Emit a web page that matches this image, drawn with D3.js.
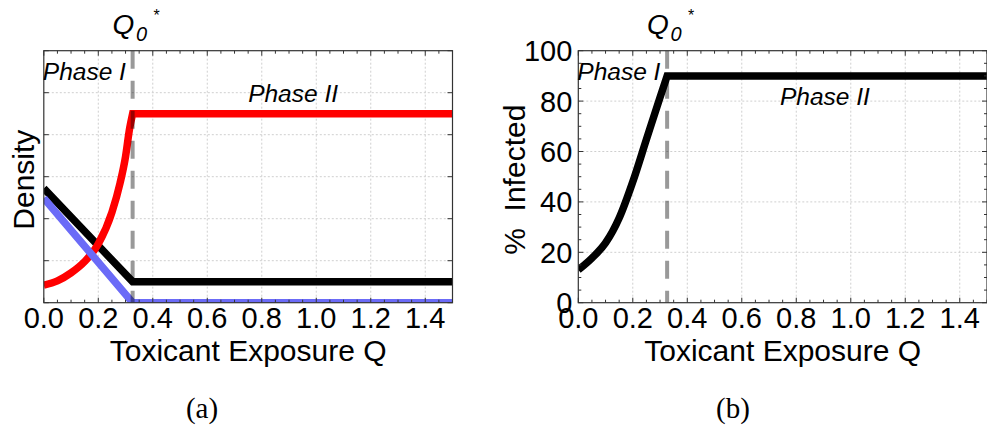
<!DOCTYPE html>
<html>
<head>
<meta charset="utf-8">
<script src="https://cdn.jsdelivr.net/npm/d3@7"></script>
<style>
  html, body { margin: 0; padding: 0; background: #fff; }
  svg { display: block; }
  text { font-family: "Liberation Sans", Arial, Helvetica, sans-serif; fill: #000; }
</style>
</head>
<body>
<svg id="chart" width="987" height="426"></svg>
<script>
// ---------- data ----------
const qStar = 0.326;
const xTickValues = [0, 0.2, 0.4, 0.6, 0.8, 1.0, 1.2, 1.4];
const xTickLabels = ["0.0", "0.2", "0.4", "0.6", "0.8", "1.0", "1.2", "1.4"];
const densityGrid = [0, 1, 2, 3, 4, 5, 6];
const pctTickValues = [0, 20, 40, 60, 80, 100];
const pctTickLabels = ["0", "20", "40", "60", "80", "100"];

// panel (a): densities
const redQ       = [0, 0.05, 0.10, 0.15, 0.20, 0.25, 0.28, 0.30, 0.315, 0.326, 1.5];
const redDensity = [0.42, 0.52, 0.71, 0.98, 1.40, 2.15, 2.85, 3.48, 4.15, 4.50, 4.50];
const blackQ       = [0, 0.326, 1.5];
const blackDensity = [2.72, 0.50, 0.50];
const blueQ       = [0, 0.326, 1.5];
const blueDensity = [2.49, 0.0, 0.0];

// panel (b): % infected
const infQ   = [0, 0.05, 0.10, 0.15, 0.20, 0.25, 0.30, 0.326, 1.5];
const infPct = [13, 17.7, 23.7, 33.6, 48, 64.8, 81.5, 90, 90];

// ---------- layout ----------
const svg = d3.select("#chart");
const plotTop = 50.7, plotBottom = 302.7;
const panels = [
  { id: "a", left: 43.8, right: 452.5, yDomain: [0, 6] },
  { id: "b", left: 578.3, right: 987.0, yDomain: [0, 100] }
];

function zip(q, v) { return q.map((d, i) => [d, v[i]]); }

function drawPanel(p) {
  const x = d3.scaleLinear().domain([0, 1.5]).range([p.left, p.right]);
  const y = d3.scaleLinear().domain(p.yDomain).range([plotBottom, plotTop]);
  const g = svg.append("g");
  const clipId = "clip-" + p.id;
  svg.append("clipPath").attr("id", clipId)
    .append("rect").attr("x", p.left).attr("y", plotTop)
    .attr("width", p.right - p.left).attr("height", plotBottom - plotTop);

  // grid
  const yGrid = p.id === "a" ? densityGrid : pctTickValues;
  g.append("g").selectAll("line").data(xTickValues.slice(1)).join("line")
    .attr("x1", d => x(d)).attr("x2", d => x(d)).attr("y1", plotTop).attr("y2", plotBottom)
    .attr("stroke", "#cfcfcf").attr("stroke-width", 1).attr("stroke-dasharray", "2,2");
  g.append("g").selectAll("line").data(yGrid.slice(1, -1)).join("line")
    .attr("x1", p.left).attr("x2", p.right).attr("y1", d => y(d)).attr("y2", d => y(d))
    .attr("stroke", "#cfcfcf").attr("stroke-width", 1).attr("stroke-dasharray", "2,2");

  const plot = g.append("g").attr("clip-path", `url(#${clipId})`);

  function cornerPath(pts, curved) {
    const idx = pts.findIndex(d => d[0] === qStar);
    const first = pts.slice(0, idx + 1), rest = pts.slice(idx + 1);
    const lineA = d3.line().x(d => x(d[0])).y(d => y(d[1]))
      .curve(curved ? d3.curveMonotoneX : d3.curveLinear);
    let d = lineA(first);
    rest.forEach(r => { d += "L" + x(r[0]) + "," + y(r[1]); });
    return d;
  }

  const series = p.id === "a"
    ? [ { pts: zip(blackQ, blackDensity), color: "#000000", curved: false },
        { pts: zip(redQ, redDensity), color: "#ff0000", curved: true },
        { pts: zip(blueQ, blueDensity), color: "#6b6bf7", curved: false } ]
    : [ { pts: zip(infQ, infPct), color: "#000000", curved: true } ];

  series.forEach(s => {
    plot.append("path").attr("d", cornerPath(s.pts, s.curved))
      .attr("fill", "none").attr("stroke", s.color).attr("stroke-width", 7.5)
      .attr("stroke-linejoin", "miter").attr("stroke-linecap", "butt");
  });

  // dashed Q0* line
  plot.append("line").attr("x1", x(qStar)).attr("x2", x(qStar))
    .attr("y1", plotTop).attr("y2", plotBottom)
    .attr("stroke", "#000").attr("stroke-opacity", 0.4).attr("stroke-width", 4)
    .attr("stroke-dasharray", "18,12");

  // ticks (inward)
  const minorX = d3.range(0, 1.5001, 0.05);
  const tk = g.append("g").attr("stroke", "#333").attr("stroke-width", 1);
  minorX.forEach(v => {
    const major = Math.abs(v / 0.2 - Math.round(v / 0.2)) < 1e-6;
    const len = major ? 5 : 3;
    tk.append("line").attr("x1", x(v)).attr("x2", x(v)).attr("y1", plotBottom).attr("y2", plotBottom - len);
    tk.append("line").attr("x1", x(v)).attr("x2", x(v)).attr("y1", plotTop).attr("y2", plotTop + len);
  });
  if (p.id === "a") {
    densityGrid.forEach(v => {
      tk.append("line").attr("x1", p.left).attr("x2", p.left + 5).attr("y1", y(v)).attr("y2", y(v));
      tk.append("line").attr("x1", p.right).attr("x2", p.right - 5).attr("y1", y(v)).attr("y2", y(v));
    });
  } else {
    d3.range(0, 100.001, 5).forEach(v => {
      const len = v % 20 === 0 ? 5 : 3;
      tk.append("line").attr("x1", p.left).attr("x2", p.left + len).attr("y1", y(v)).attr("y2", y(v));
      tk.append("line").attr("x1", p.right).attr("x2", p.right - len).attr("y1", y(v)).attr("y2", y(v));
    });
  }

  // frame
  g.append("rect").attr("x", p.left).attr("y", plotTop)
    .attr("width", p.right - p.left).attr("height", plotBottom - plotTop)
    .attr("fill", "none").attr("stroke", "#333").attr("stroke-width", 1.2);

  // x tick labels
  g.append("g").selectAll("text").data(xTickValues).join("text")
    .attr("x", d => x(d)).attr("y", 328).attr("text-anchor", "middle")
    .attr("font-size", 29).text((d, i) => xTickLabels[i]);

  // y tick labels (panel b)
  if (p.id === "b") {
    g.append("g").selectAll("text").data(pctTickValues).join("text")
      .attr("x", p.left - 6).attr("y", d => y(d)).attr("dy", "0.36em")
      .attr("text-anchor", "end").attr("font-size", 29)
      .text((d, i) => pctTickLabels[i]);
  }

  // axis titles
  g.append("text").attr("x", (p.left + p.right) / 2).attr("y", 361)
    .attr("text-anchor", "middle").attr("font-size", 30).text("Toxicant Exposure Q");
  const yTitle = p.id === "a" ? "Density" : "%  Infected";
  const yTitleX = p.id === "a" ? 34 : 525;
  g.append("text").attr("transform", `translate(${yTitleX},${(plotTop + plotBottom) / 2 + 3}) rotate(-90)`)
    .attr("text-anchor", "middle").attr("font-size", 30)
    .attr("xml:space", "preserve").style("white-space", "pre").text(yTitle);

  // Q0* label
  const qx = x(qStar);
  g.append("text").attr("x", qx - 20).attr("y", 33.5).attr("font-size", 28)
    .attr("font-style", "italic").text("Q");
  g.append("text").attr("x", qx + 3.5).attr("y", 40.5).attr("font-size", 20)
    .attr("font-style", "italic").text("0");
  g.append("text").attr("x", qx + 21).attr("y", 21).attr("font-size", 16)
    .text("*");

  // phase labels
  g.append("text").attr("x", p.left - 1).attr("y", 80).attr("font-size", 24.5)
    .attr("font-style", "italic").text("Phase I");
  const p2x = p.id === "a" ? x(0.915) : x(0.905);
  const p2y = p.id === "a" ? 101.7 : 105;
  g.append("text").attr("x", p2x).attr("y", p2y).attr("text-anchor", "middle")
    .attr("font-size", 24.5).attr("font-style", "italic").text("Phase II");
}

panels.forEach(drawPanel);

// captions
svg.append("text").attr("x", 202).attr("y", 418).attr("text-anchor", "middle")
  .attr("font-size", 29).style("font-family", '"Liberation Serif", "DejaVu Serif", serif').text("(a)");
svg.append("text").attr("x", 733).attr("y", 418).attr("text-anchor", "middle")
  .attr("font-size", 29).style("font-family", '"Liberation Serif", "DejaVu Serif", serif').text("(b)");
</script>
</body>
</html>
